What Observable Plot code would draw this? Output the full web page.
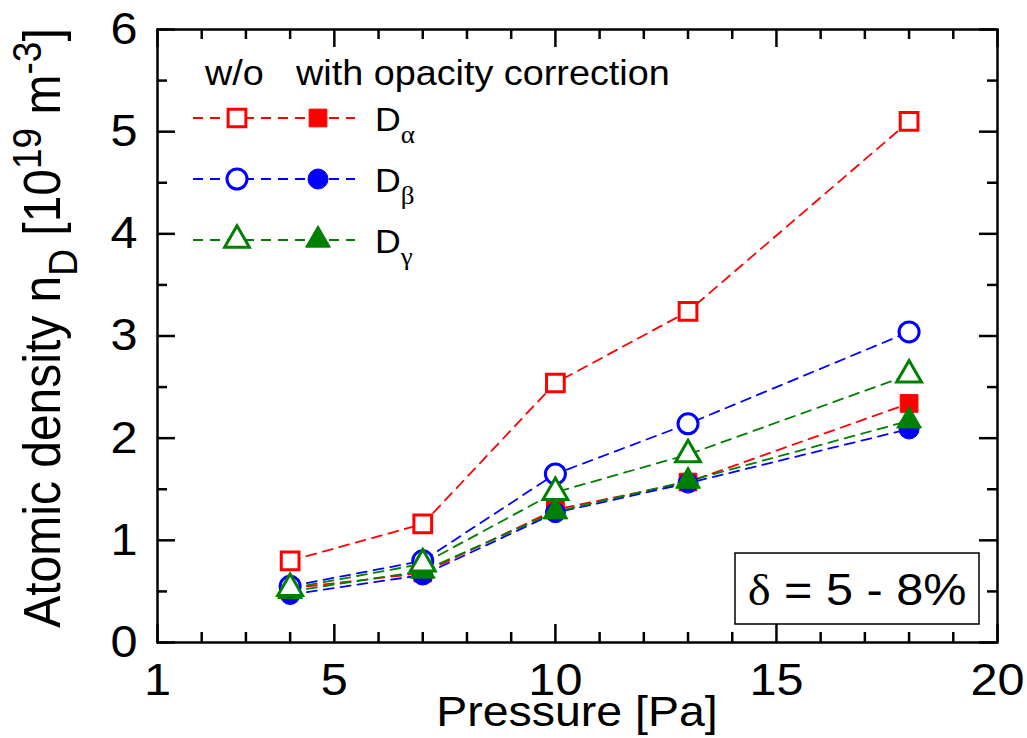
<!DOCTYPE html>
<html>
<head>
<meta charset="utf-8">
<script src="https://cdn.jsdelivr.net/npm/d3@7"></script>
<script src="https://cdn.jsdelivr.net/npm/@observablehq/plot@0.6"></script>
<style>
  body { margin: 0; background: #fff; }
  #chart { width: 1027px; height: 738px; }
</style>
</head>
<body>
<div id="chart"></div>
<script>
// ---- data ----
const pressure = [4, 7, 10, 13, 18];
const dAlphaWo   = [0.80, 1.16, 2.54, 3.24, 5.10];
const dBetaWo    = [0.55, 0.80, 1.65, 2.14, 3.04];
const dGammaWo   = [0.53, 0.77, 1.47, 1.84, 2.62];
const dAlphaWith = [0.53, 0.68, 1.30, 1.57, 2.34];
const dBetaWith  = [0.47, 0.66, 1.27, 1.56, 2.09];
const dGammaWith = [0.50, 0.70, 1.28, 1.58, 2.17];

const xMajorTicks = [1, 5, 10, 15, 20];
const xMinorTicks = [2, 3, 4, 6, 7, 8, 9, 11, 12, 13, 14, 16, 17, 18, 19];
const yMajorTicks = [0, 1, 2, 3, 4, 5, 6];
const yMinorTicks = [0.5, 1.5, 2.5, 3.5, 4.5, 5.5];

const lineNames = ["α", "β", "γ"];
const colors = ["#ff0000", "#0000ff", "#008000"];
const symbols = ["square", "circle", "triangle"];
const symR = [10, 10, 9.2];

// ---- layout ----
const W = 1027, H = 738, mL = 157, mR = 30, mT = 29, mB = 96;
const innerW = W - mL - mR, innerH = H - mT - mB;
const K = 1.08; // horizontal text stretch of the reference
const font = "'Liberation Sans', Arial, Helvetica, sans-serif";
const serif = "'Liberation Serif', 'Times New Roman', serif";

const rows = arr => pressure.map((p, i) => ({p, v: arr[i]}));
const woSeries = [dAlphaWo, dBetaWo, dGammaWo].map((a, i) => ({rows: rows(a), i}));
const withSeries = [dAlphaWith, dBetaWith, dGammaWith].map((a, i) => ({rows: rows(a), i}));

const dash = "10,7";

const svgNode = Plot.plot({
  width: W, height: H,
  marginLeft: mL, marginRight: mR, marginTop: mT, marginBottom: mB,
  style: {fontFamily: font, background: "#fff", color: "#000", overflow: "visible"},
  x: {domain: [1, 20]},
  y: {domain: [0, 6]},
  marks: [
    ...[...woSeries, ...withSeries].map(s => Plot.line(s.rows, {x: "p", y: "v", stroke: colors[s.i], strokeWidth: 1.8, strokeDasharray: dash})),
    ...withSeries.map(s => Plot.dot(s.rows, {x: "p", y: "v", symbol: symbols[s.i], r: symR[s.i], fill: colors[s.i], stroke: colors[s.i], strokeWidth: 1})),
    ...woSeries.map(s => Plot.dot(s.rows, {x: "p", y: "v", symbol: symbols[s.i], r: symR[s.i], fill: "#fff", stroke: colors[s.i], strokeWidth: 3})),
    Plot.frame({stroke: "#000", strokeWidth: 2.5}),
    Plot.tickX(xMajorTicks, {x: d => d, insetTop: innerH - 18, stroke: "#000", strokeWidth: 2.5}),
    Plot.tickX(xMajorTicks, {x: d => d, insetBottom: innerH - 18, stroke: "#000", strokeWidth: 2.5}),
    Plot.tickX(xMinorTicks, {x: d => d, insetTop: innerH - 10, stroke: "#000", strokeWidth: 2.5}),
    Plot.tickX(xMinorTicks, {x: d => d, insetBottom: innerH - 10, stroke: "#000", strokeWidth: 2.5}),
    Plot.tickY(yMajorTicks, {y: d => d, insetRight: innerW - 18, stroke: "#000", strokeWidth: 2.5}),
    Plot.tickY(yMajorTicks, {y: d => d, insetLeft: innerW - 18, stroke: "#000", strokeWidth: 2.5}),
    Plot.tickY(yMinorTicks, {y: d => d, insetRight: innerW - 10, stroke: "#000", strokeWidth: 2.5}),
    Plot.tickY(yMinorTicks, {y: d => d, insetLeft: innerW - 10, stroke: "#000", strokeWidth: 2.5}),
    Plot.axisX({ticks: xMajorTicks, tickSize: 0, tickPadding: 21, fontSize: 45, label: null, tickFormat: d => String(d)}),
    Plot.axisY({ticks: yMajorTicks, tickSize: 0, tickPadding: 20, fontSize: 45, label: null, tickFormat: d => String(d)})
  ]
});

document.getElementById("chart").appendChild(svgNode);
const svg = d3.select(svgNode);

// stretch tick labels horizontally like the reference
svg.selectAll('g[aria-label="x-axis tick label"] text, g[aria-label="y-axis tick label"] text')
  .attr("transform", function() { return (this.getAttribute("transform") || "") + ` scale(${K},1)`; });

const ann = svg.append("g").attr("font-family", font).attr("fill", "#000").attr("text-anchor", "start");

// x axis label
ann.append("text").attr("transform", `translate(${mL + innerW / 2},726) scale(${K},1)`)
  .attr("text-anchor", "middle").attr("font-size", 43).text("Pressure [Pa]");

// y axis label
const yl = ann.append("text").attr("transform", `translate(60,328) scale(${K},1) rotate(-90)`)
  .attr("text-anchor", "middle").attr("font-size", 48);
yl.append("tspan").text("Atomic density n");
yl.append("tspan").attr("font-size", 37).attr("dy", 16).text("D");
yl.append("tspan").attr("dy", -16).text(" [10");
yl.append("tspan").attr("font-size", 37).attr("dy", -18).text("19");
yl.append("tspan").attr("dy", 18).text(" m");
yl.append("tspan").attr("font-size", 37).attr("dy", -18).text("-3");
yl.append("tspan").attr("dy", 18).text("]");

// legend
ann.append("text").attr("transform", `translate(205,85) scale(${K},1)`).attr("text-anchor", "start").attr("font-size", 35).text("w/o");
ann.append("text").attr("transform", `translate(296,85) scale(${K},1)`).attr("text-anchor", "start").attr("font-size", 35).text("with opacity correction");
const rowY = [118, 179, 240];
const sym = {square: d3.symbolSquare, circle: d3.symbolCircle, triangle: d3.symbolTriangle};
lineNames.forEach((nm, i) => {
  const y = rowY[i];
  const g = ann.append("g");
  g.append("line").attr("x1", 193).attr("x2", 355).attr("y1", y).attr("y2", y)
    .attr("stroke", colors[i]).attr("stroke-width", 1.8).attr("stroke-dasharray", dash);
  const path = d3.symbol(sym[symbols[i]], Math.PI * symR[i] * symR[i])();
  g.append("path").attr("d", path).attr("transform", `translate(237,${y})`)
    .attr("fill", "#fff").attr("stroke", colors[i]).attr("stroke-width", 3);
  g.append("path").attr("d", path).attr("transform", `translate(318,${y})`)
    .attr("fill", colors[i]).attr("stroke", colors[i]).attr("stroke-width", 1);
  const t = g.append("text").attr("transform", `translate(375,${y + 13}) scale(${K},1)`)
    .attr("text-anchor", "start").attr("font-size", 33);
  t.append("tspan").text("D");
  t.append("tspan").attr("font-family", serif).attr("font-size", 25).attr("dy", 12).text(nm);
});

// delta box
ann.append("rect").attr("x", 735).attr("y", 553).attr("width", 244).attr("height", 71)
  .attr("fill", "#fff").attr("stroke", "#000").attr("stroke-width", 1.5);
const dt = ann.append("text").attr("transform", `translate(857,605) scale(${K},1)`)
  .attr("text-anchor", "middle").attr("font-size", 45);
dt.append("tspan").attr("font-family", serif).text("δ");
dt.append("tspan").text(" = 5 - 8%");
</script>
</body>
</html>
